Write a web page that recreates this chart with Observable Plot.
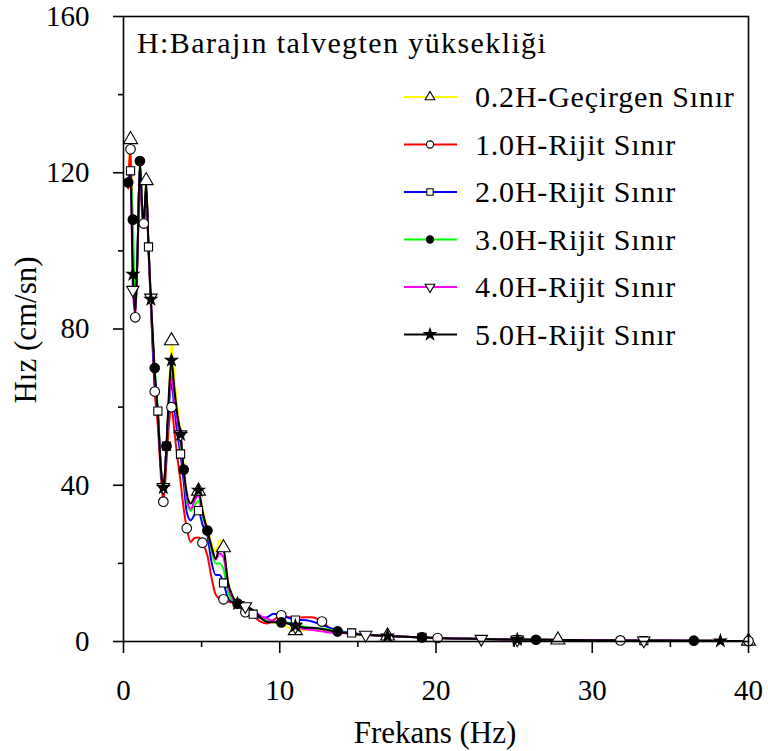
<!DOCTYPE html>
<html><head><meta charset="utf-8">
<script src="https://cdn.jsdelivr.net/npm/d3@7"></script>
<script src="https://cdn.jsdelivr.net/npm/@observablehq/plot@0.6"></script>
<style>body{margin:0;background:#fff}#chart{width:768px;height:751px}</style>
</head><body><div id="chart"></div>
<script>
// Frequency grid (Hz)
const freq = [0.3,0.45,0.6,0.75,0.9,1.05,1.2,1.3,1.45,1.6,1.75,2.0,2.2,2.4,2.55,2.75,2.9,3.07,3.25,3.45,3.65,3.85,
  4.05,4.3,4.55,4.8,5.05,5.37,5.65,5.9,6.15,6.4,6.7,7.0,7.3,7.8,8.3,8.8,9.2,9.6,10.1,10.6,11.0,11.5,12.0,12.7,13.2,13.7,
  14.6,15.5,16.9,19.1,20.1,22.9,25.2,26.4,27.8,30,31.8,33.3,36.5,38.2,40];

// Velocity (cm/sn) per series
const v02H = [117,128.5,100,84,100,121,110,106,118,102,88,68,58,45,39,50,63,77,68,60,53,45,
  37,35.5,37,38.5,34,29,25,23,26,24,15,11.5,9.7,9,8,6,5,4.8,4.5,3.5,2.8,2.9,3,3,2.7,2.5,
  2.0,1.7,1.4,1.05,0.9,0.65,0.5,0.45,0.4,0.32,0.28,0.25,0.2,0.15,0.1];
const v10H = [116,126,98,83,99,122,109,107,116,100,86,64,55,42,35.8,46,55,60,54,47,41,34,
  29,25.5,26.5,26.6,25.3,22,16,12,11,10.8,10.2,9.9,9.3,7.5,6.5,5,4.6,5.5,6.7,6.2,6,6.2,6.2,5.1,3.5,2.7,
  2.0,1.7,1.4,1.05,0.9,0.65,0.5,0.45,0.4,0.32,0.28,0.25,0.2,0.15,0.1];
const v20H = [117,120.5,101,84,100,122,110,107,116,101,87,66,59,44,38,50,60,66,60,53,48,41,
  33,31,32.5,33.5,30,27,20,17,17,15,11,10,9.7,8.5,7,6,6.2,7.1,6.5,6,5.5,5.5,5.2,4.3,3.5,2.8,
  2.2,1.8,1.4,1.05,0.9,0.65,0.5,0.45,0.4,0.32,0.28,0.25,0.2,0.15,0.1];
const v30H = [117.5,119,108,84.5,100,123,111,107,117,101,87,70,59,44,39,50,61,70,63,57,50,44,
  36,33.5,35,36,32,28.4,23,20,20,18.5,12.5,10.5,9.7,9.2,8,6,5.3,5,4.9,4.8,4.5,3.8,3.5,3.3,3,2.6,
  2.0,1.7,1.4,1.05,0.9,0.65,0.5,0.45,0.4,0.32,0.28,0.25,0.2,0.15,0.1];
const v40H = [117,119,90,84,100,122,110,107,116,101,88,68,58,44,39.5,50,61,68,62,56,53,44,
  37,34,36,37.5,33,28,24,21,22.5,21.5,14,11,9.7,9,8,6.5,5.8,5.2,5,4.5,3.8,3.2,3,2.6,2.3,2.2,
  2.0,1.7,1.4,1.05,0.9,0.65,0.5,0.45,0.4,0.32,0.28,0.25,0.2,0.15,0.1];
const v50H = [117.5,119,94,84.5,100,122.5,111,107,117.5,101,87.6,69,58,44,39.4,50,63,72,65,58,53,44,
  38,35.3,37,38.7,33.5,28.4,24,21.2,24,23.5,15,11.5,9.7,9,8,6,5,4.9,4.9,4.5,4,3.6,3.5,3.2,2.8,2.5,
  2.0,1.7,1.4,1.05,0.9,0.65,0.5,0.45,0.4,0.32,0.28,0.25,0.2,0.15,0.1];

// Frequencies where each series shows its marker
const m02H = [0.45,1.45,3.07,4.8,6.4,11.0,16.9,27.8,40];
const m10H = [0.45,0.75,1.3,2.0,2.55,3.07,4.05,5.05,6.4,7.8,10.1,12.7,20.1,31.8,40];
const m20H = [0.45,1.6,2.2,2.75,3.65,4.8,6.4,8.3,11.0,14.6,19.1,25.2,33.3];
const m30H = [0.3,0.6,1.05,2.0,2.75,3.85,5.37,7.3,10.1,13.7,19.1,26.4,36.5];
const m40H = [0.6,1.75,2.55,3.65,7.8,11.0,15.5,22.9,25.2,33.3];
const m50H = [0.6,1.75,2.55,3.07,3.65,4.8,7.3,11.0,16.9,25.2,38.2];

const seriesNames = ["0.2H-Geçirgen Sınır","1.0H-Rijit Sınır","2.0H-Rijit Sınır","3.0H-Rijit Sınır","4.0H-Rijit Sınır","5.0H-Rijit Sınır"];
const seriesColors = ["#ffff00","#ff0000","#0000ff","#00ff00","#ff00ff","#000000"];
const xTicks = [0,10,20,30,40], xMinor = [5,15,25,35];
const yTicks = [0,40,80,120,160], yMinor = [20,60,100,140];
const titleText = "H:Barajın talvegten yüksekliği";
const xLabel = "Frekans (Hz)", yLabel = "Hız (cm/sn)";

const sqrt3 = Math.sqrt(3);
const triangleDown = {draw(ctx, size){ const y = Math.sqrt(size/(sqrt3*3)); ctx.moveTo(0, y*2); ctx.lineTo(-sqrt3*y, -y); ctx.lineTo(sqrt3*y, -y); ctx.closePath(); }};
const symbols = [d3.symbolTriangle, d3.symbolCircle, d3.symbolSquare, d3.symbolCircle, triangleDown, d3.symbolStar];
const fills = ["white","white","white","black","white","black"];
const radii = [5.2, 4.8, 4.6, 4.8, 4.6, 3.8];

const allValues = [v02H,v10H,v20H,v30H,v40H,v50H];
const allMarkers = [m02H,m10H,m20H,m30H,m40H,m50H];
const tables = allValues.map(vals => freq.map((f,i)=>({f, v: vals[i]})));

const font = "Times New Roman, Liberation Serif, DejaVu Serif, serif";
const marks = [];
tables.forEach((t,k)=> marks.push(Plot.line(t, {x:"f", y:"v", stroke: seriesColors[k], strokeWidth: 2, curve: "monotone-x"})));
tables.forEach((t,k)=> marks.push(Plot.dot(t.filter(d=>allMarkers[k].includes(d.f)), {x:"f", y:"v", symbol: symbols[k], r: radii[k], fill: fills[k], stroke:"black", strokeWidth: 1.1})));
marks.push(
  Plot.frame({stroke:"black", strokeWidth:1.6}),
  Plot.axisX(xTicks, {tickSize:12, tickPadding:26, fontSize:29, label:null, strokeWidth:1.6}),
  Plot.axisX(xMinor, {tickSize:6, tickFormat:()=>"", label:null, strokeWidth:1.6}),
  Plot.axisY(yTicks, {tickSize:10, tickPadding:24, fontSize:29, label:null, strokeWidth:1.6}),
  Plot.axisY(yMinor, {tickSize:5, tickFormat:()=>"", label:null, strokeWidth:1.6})
);

const chart = Plot.plot({
  width:768, height:751, marginLeft:123, marginRight:20, marginTop:16, marginBottom:110,
  x:{domain:[0,40], label:null}, y:{domain:[0,160], label:null},
  style:{fontFamily:font, background:"white", color:"black"},
  marks
});
const svg = d3.select(chart);
svg.attr("font-family", font).style("font-family", font);
svg.selectAll("text").attr("font-family", font);
svg.append("text").attr("x", 137).attr("y", 53).attr("text-anchor","start").attr("font-size",30).attr("font-family",font).attr("fill","black").attr("letter-spacing",1.4).text(titleText);
svg.append("text").attr("x", 435).attr("y", 743).attr("text-anchor","middle").attr("font-size",31).attr("font-family",font).attr("fill","black").text(xLabel);
svg.append("text").attr("transform","translate(36,330) rotate(-90)").attr("text-anchor","middle").attr("font-size",31).attr("font-family",font).attr("fill","black").text(yLabel);
const lg = svg.append("g").attr("font-family", font).attr("font-size", 30).attr("text-anchor","start");
seriesNames.forEach((name,k)=>{
  const cy = 97 + k*47.5;
  lg.append("line").attr("x1",404).attr("x2",457).attr("y1",cy).attr("y2",cy).attr("stroke",seriesColors[k]).attr("stroke-width",2);
  lg.append("path").attr("transform",`translate(430,${cy})`).attr("d", d3.symbol(symbols[k], Math.PI*3.6*3.6)()).attr("fill",fills[k]).attr("stroke","black").attr("stroke-width",1.1);
  lg.append("text").attr("x",475).attr("y",cy+10).attr("fill","black").attr("text-anchor","start").attr("letter-spacing", 0.8).text(name);
});
document.getElementById("chart").appendChild(chart);
</script></body></html>
